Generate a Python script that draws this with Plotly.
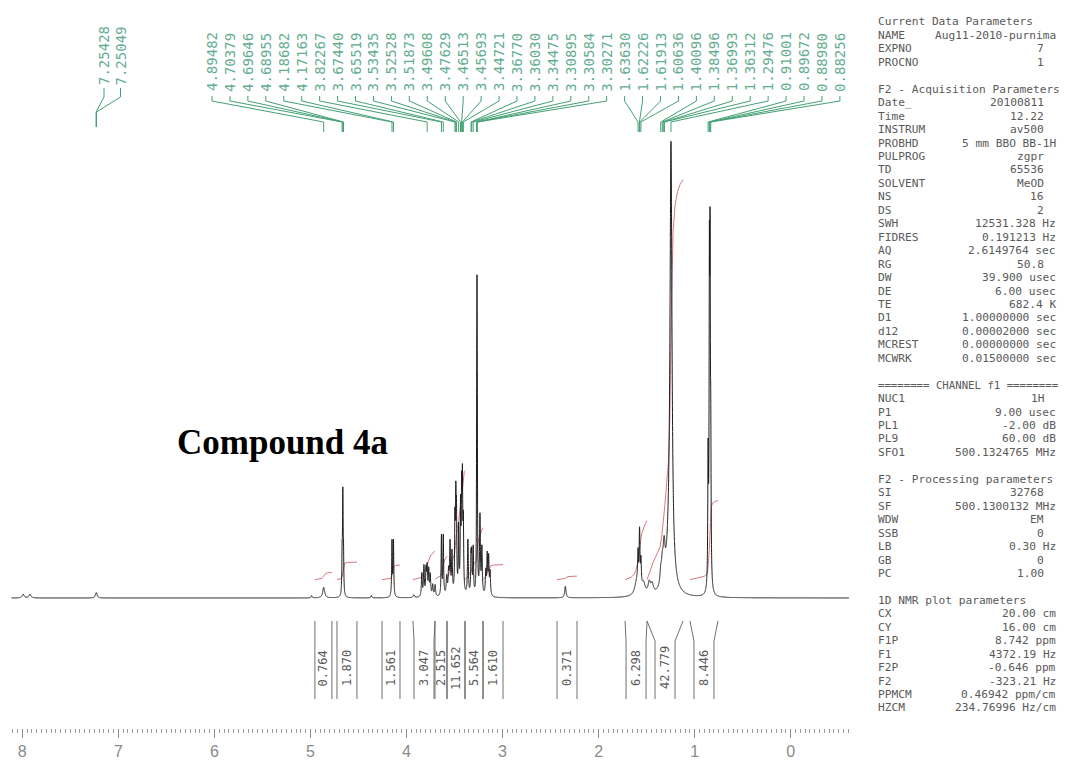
import numpy as np
import plotly.graph_objects as go

W, H = 1065, 764

# ---------------- spectrum: peak list (ppm, height, half width in ppm) ----------------
PEAK_PPM = [8.01, 7.94, 7.2543, 7.2505, 5.02, 4.8948, 4.7038, 4.6965, 4.6896, 4.40, 4.1868, 4.1716, 3.96,
            3.878, 3.856, 3.834, 3.8227, 3.806, 3.79, 3.765, 3.74,
            3.6744, 3.6552, 3.62, 3.60, 3.585, 3.565,
            3.5344, 3.5253, 3.5187, 3.4961, 3.4763, 3.4651, 3.4569, 3.4472, 3.40,
            3.3677, 3.3603, 3.3448, 3.3090, 3.3058, 3.3027, 3.275, 3.255,
            3.215, 3.20, 3.185, 3.17,
            2.39,
            1.65, 1.6363, 1.6223, 1.6191, 1.6064, 1.58, 1.52, 1.49,
            1.401, 1.385, 1.370, 1.3631, 1.31, 1.2948,
            0.9100, 0.8967, 0.8898, 0.8826]
PEAK_HEIGHT = [0.8, 0.8, 0.6, 0.6, 0.5, 2.3, 8, 21, 8, 0.5, 12, 12, 0.6,
               5, 6.5, 5.5, 6, 5.5, 4.5, 2.5, 2.5,
               13, 13, 4, 5, 11, 9,
               15, 18, 15, 14, 18, 20, 22, 14, 12,
               8, 8, 10, 28, 48, 28, 17, 10,
               5, 8.5, 8, 5,
               2.5,
               3, 7, 7, 7, 6, 2.5, 2.5, 2,
               3, 4, 4, 4, 8, 92,
               28, 64, 64, 28]
PEAK_HWHM = [0.012, 0.012, 0.01, 0.01, 0.006, 0.012, 0.0035, 0.0035, 0.0035, 0.006, 0.004, 0.004, 0.008,
             0.005, 0.005, 0.005, 0.005, 0.005, 0.005, 0.006, 0.006,
             0.004, 0.004, 0.006, 0.006, 0.005, 0.005,
             0.004, 0.004, 0.004, 0.004, 0.004, 0.004, 0.004, 0.004, 0.005,
             0.004, 0.004, 0.004, 0.0025, 0.0025, 0.0025, 0.005, 0.005,
             0.005, 0.005, 0.005, 0.005,
             0.008,
             0.025, 0.005, 0.004, 0.004, 0.005, 0.02, 0.015, 0.015,
             0.01, 0.01, 0.01, 0.01, 0.04, 0.012,
             0.004, 0.0035, 0.0035, 0.004]

# peak picking labels
PICK_AROMATIC = [7.25428, 7.25049]
PICK_ALIPHATIC = [4.89482, 4.70379, 4.69646, 4.68955, 4.18682, 4.17163, 3.82267, 3.67440, 3.65519,
                  3.53435, 3.52528, 3.51873, 3.49608, 3.47629, 3.46513, 3.45693, 3.44721,
                  3.36770, 3.36030, 3.34475, 3.30895, 3.30584, 3.30271,
                  1.63630, 1.62226, 1.61913, 1.60636, 1.40096, 1.38496, 1.36993, 1.36312, 1.29476,
                  0.91001, 0.89672, 0.88980, 0.88256]

# integral regions (ppm) and values
INT_FROM = [4.986, 4.757, 4.290, 3.969, 3.741, 3.617, 3.430, 3.243, 2.476, 1.771, 1.543, 1.098]
INT_TO = [4.810, 4.550, 4.104, 3.741, 3.617, 3.430, 3.243, 3.036, 2.269, 1.543, 1.170, 0.808]
INT_VALUE = [0.764, 1.870, 1.561, 3.047, 2.515, 11.652, 5.564, 1.610, 0.371, 6.298, 42.779, 8.446]

# ppm scale labels
SCALE_TICKS = [8, 7, 6, 5, 4, 3, 2, 1, 0]

# parameter listing
PAR_CURRENT = [("NAME", "Aug11-2010-purnima"), ("EXPNO", "7"), ("PROCNO", "1")]
PAR_ACQ = [("Date_", "20100811"), ("Time", "12.22"), ("INSTRUM", "av500"), ("PROBHD", "5 mm BBO BB-1H"),
           ("PULPROG", "zgpr"), ("TD", "65536"), ("SOLVENT", "MeOD"), ("NS", "16"), ("DS", "2"),
           ("SWH", "12531.328 Hz"), ("FIDRES", "0.191213 Hz"), ("AQ", "2.6149764 sec"), ("RG", "50.8"),
           ("DW", "39.900 usec"), ("DE", "6.00 usec"), ("TE", "682.4 K"), ("D1", "1.00000000 sec"),
           ("d12", "0.00002000 sec"), ("MCREST", "0.00000000 sec"), ("MCWRK", "0.01500000 sec")]
PAR_CHANNEL = [("NUC1", "1H"), ("P1", "9.00 usec"), ("PL1", "-2.00 dB"), ("PL9", "60.00 dB"),
               ("SFO1", "500.1324765 MHz")]
PAR_PROC = [("SI", "32768"), ("SF", "500.1300132 MHz"), ("WDW", "EM"), ("SSB", "0"), ("LB", "0.30 Hz"),
            ("GB", "0"), ("PC", "1.00")]
PAR_PLOT = [("CX", "20.00 cm"), ("CY", "16.00 cm"), ("F1P", "8.742 ppm"), ("F1", "4372.19 Hz"),
            ("F2P", "-0.646 ppm"), ("F2", "-323.21 Hz"), ("PPMCM", "0.46942 ppm/cm"),
            ("HZCM", "234.76996 Hz/cm")]

# ---------------- page geometry ----------------
SX0, SK = 795.9, 96.47      # spectrum axis: pixel of 0 ppm, pixels per ppm
RX0, RK = 785.5, 94.8       # printed ppm scale
Y0, UY = 598.0, 4.6         # baseline pixel row, pixels per intensity unit
INT_K = 9.35 / UY           # integral trace height per integral unit
INT_OFF = 4.0

def sx(px):
    return (SX0 - px) / SK

def sy(py):
    return (Y0 - py) / UY

GREEN_TXT = "#62ad8e"
GREEN_LN = "#43a073"
GREY = "#5a5a5a"
MONO = "DejaVu Sans Mono"

# ---------------- traces ----------------
ppm = np.arange(8.13, -0.55, -0.0005)
spec = np.zeros_like(ppm)
for c, h, w in zip(PEAK_PPM, PEAK_HEIGHT, PEAK_HWHM):
    spec += h / (1.0 + ((ppm - c) / w) ** 2)

fig = go.Figure()

# integral curves
ix, iy = [], []
for a, b, v in zip(INT_FROM, INT_TO, INT_VALUE):
    m = (ppm <= a) & (ppm >= b)
    cum = np.cumsum(spec[m])
    cum = cum / cum[-1]
    ix += list(ppm[m]) + [None]
    iy += list(INT_OFF + v * INT_K * cum) + [None]
fig.add_trace(go.Scatter(x=ix, y=iy, mode="lines", line=dict(color="#d9787c", width=1),
                         hoverinfo="skip", showlegend=False))

fig.add_trace(go.Scatter(x=ppm, y=spec, mode="lines", line=dict(color="#1c1c1c", width=1, simplify=False),
                         hoverinfo="skip", showlegend=False))

# integral brackets and values
bx, by = [], []
top, kink, bot = sy(621), sy(641), sy(699)
for a, b, v in zip(INT_FROM, INT_TO, INT_VALUE):
    mid = (a + b) / 2
    half = min(max((a - b) / 2, 6 / SK), 10 / SK)
    bx += [a, a, mid + half, mid + half, None, b, b, mid - half, mid - half, None]
    by += [top, top, kink, bot, None, top, top, kink, bot, None]
    fig.add_annotation(x=mid, y=sy(668), xref="x", yref="y", text=f"{v:.3f}", textangle=-90,
                       showarrow=False, xanchor="center", yanchor="middle",
                       font=dict(family=MONO, size=12, color=GREY))
fig.add_trace(go.Scatter(x=bx, y=by, mode="lines", line=dict(color="#606060", width=0.9),
                         hoverinfo="skip", showlegend=False))

# peak-pick leader lines and labels
lx, ly = [], []
def pick_group(values, x_first, step, y_txt, y_a, y_b, y_c, y_d):
    for i, p in enumerate(values):
        px = x_first + i * step
        lx.extend([sx(px), sx(px), p, p, None])
        ly.extend([sy(y_a), sy(y_b), sy(y_c), sy(y_d), None])
        fig.add_annotation(x=px / W, y=1 - y_txt / H, xref="paper", yref="paper", text=f"{p:.5f}",
                           textangle=-90, showarrow=False, xanchor="center", yanchor="middle",
                           font=dict(family=MONO, size=14, color=GREEN_TXT))

pick_group(PICK_AROMATIC, 104, 16.5, 56, 88, 97, 112, 127)
pick_group(PICK_ALIPHATIC, 212, 17.94, 62, 96, 101, 122, 132)
fig.add_trace(go.Scatter(x=lx, y=ly, mode="lines", line=dict(color=GREEN_LN, width=1),
                         hoverinfo="skip", showlegend=False))

# carrier for the printed ppm scale
fig.add_trace(go.Scatter(x=SCALE_TICKS, y=[-30] * len(SCALE_TICKS), xaxis="x2", yaxis="y", mode="markers",
                         marker=dict(opacity=0), hoverinfo="skip", showlegend=False))

# title
fig.add_annotation(x=282.5 / W, y=1 - 443 / H, xref="paper", yref="paper", text="<b>Compound 4a</b>",
                   showarrow=False, xanchor="center", yanchor="middle",
                   font=dict(family="Liberation Serif", size=35, color="#000000"))

# parameter listing
rows = [("Current Data Parameters", None)] + PAR_CURRENT + [None] + \
       [("F2 - Acquisition Parameters", None)] + PAR_ACQ + [None] + \
       [("======== CHANNEL f1 ========", None)] + PAR_CHANNEL + [None] + \
       [("F2 - Processing parameters", None)] + PAR_PROC + [None] + \
       [("1D NMR plot parameters", None)] + PAR_PLOT
for i, row in enumerate(rows):
    if row is None:
        continue
    yy = 1 - (22 + i * 13.45) / H
    name, val = row
    size = 10.7 if name.startswith("=") else 11.2
    fig.add_annotation(x=876 / W, y=yy, xref="paper", yref="paper", text=name, showarrow=False,
                       xanchor="left", yanchor="middle", font=dict(family=MONO, size=size, color=GREY))
    if val is not None:
        right = 1058 if (" " in val or len(val) > 10) else 1046
        fig.add_annotation(x=right / W, y=yy, xref="paper", yref="paper", text=val, showarrow=False,
                           xanchor="right", yanchor="middle", font=dict(family=MONO, size=11.2, color=GREY))

# ---------------- layout ----------------
xs0, xs1 = 8, 852
xr0, xr1 = 13, 846
fig.update_layout(
    width=W, height=H, margin=dict(l=0, r=0, t=0, b=0), autosize=False,
    paper_bgcolor="white", plot_bgcolor="white", showlegend=False, hovermode=False,
    xaxis=dict(domain=[xs0 / W, xs1 / W], range=[sx(xs0), sx(xs1)], visible=False, fixedrange=True),
    yaxis=dict(domain=[0, 1], range=[sy(H), sy(0)], visible=False, fixedrange=True),
    xaxis2=dict(domain=[xr0 / W, xr1 / W], range=[(RX0 - xr0) / RK, (RX0 - xr1) / RK],
                overlaying="x", anchor="free", position=1 - 728 / H, side="bottom",
                showgrid=False, zeroline=False, showline=False,
                tickmode="array", tickvals=SCALE_TICKS, ticktext=[str(t) for t in SCALE_TICKS],
                ticks="outside", ticklen=9, tickwidth=1, tickcolor="#8a8a8a",
                minor=dict(tickmode="linear", tick0=0, dtick=0.05, ticks="outside", ticklen=4,
                           tickwidth=1, tickcolor="#9a9a9a", showgrid=False),
                tickfont=dict(family="Liberation Sans Narrow, Liberation Sans", size=16, color="#8a8a8a"),
                fixedrange=True),
)

fig.write_html("out.html", config={"displayModeBar": False})
